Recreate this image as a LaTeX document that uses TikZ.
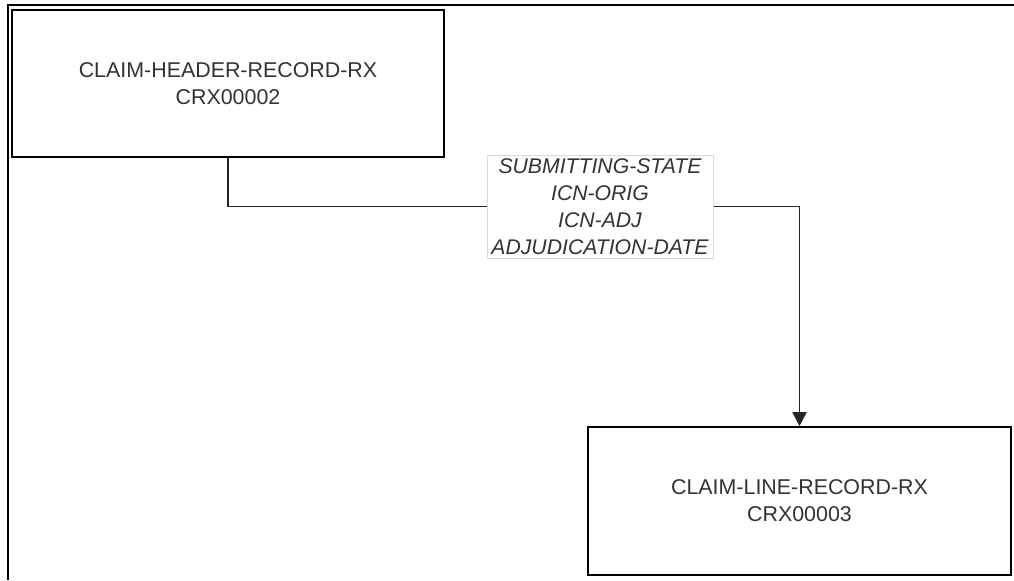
\documentclass[tikz,border=0pt]{standalone}
\usepackage{fontspec}
\setmainfont{Liberation Sans}
\usetikzlibrary{arrows.meta}
\tikzset{
  recbox/.style={draw, line width=0.8pt, fill=white, align=center, text=black!80,
    font=\fontsize{10.7}{13.5}\selectfont},
  keybox/.style={draw=black!15, line width=0.5pt, fill=white, align=center, text=black!80,
    font=\fontsize{10.6}{13.4}\selectfont\itshape, inner sep=0pt},
  link/.style={line width=0.8pt, black!85}
}
\begin{document}
\begin{tikzpicture}[x=0.5pt,y=-0.5pt]
\useasboundingbox (0,0) rectangle (1014,580);
% outer frame (cut off at right and bottom)
\draw[line width=1.2pt] (8,580) -- (8,5) -- (1014,5);
\node[recbox, minimum width=216pt, minimum height=73.5pt] (hdr) at (228,83.5)
  {CLAIM-HEADER-RECORD-RX\\CRX00002};
\node[recbox, minimum width=211.5pt, minimum height=74pt] (line) at (799.5,501)
  {CLAIM-LINE-RECORD-RX\\CRX00003};
\node[keybox, minimum width=113pt, minimum height=51.5pt] (keys) at (600,206.5)
  {SUBMITTING-STATE\\ICN-ORIG\\ICN-ADJ\\ADJUDICATION-DATE};
\draw[link] (hdr.south) |- (keys.west);
\draw[link,-{Triangle[length=7pt,width=7pt]}] (keys.east) -| (line.north);
\end{tikzpicture}
\end{document}
